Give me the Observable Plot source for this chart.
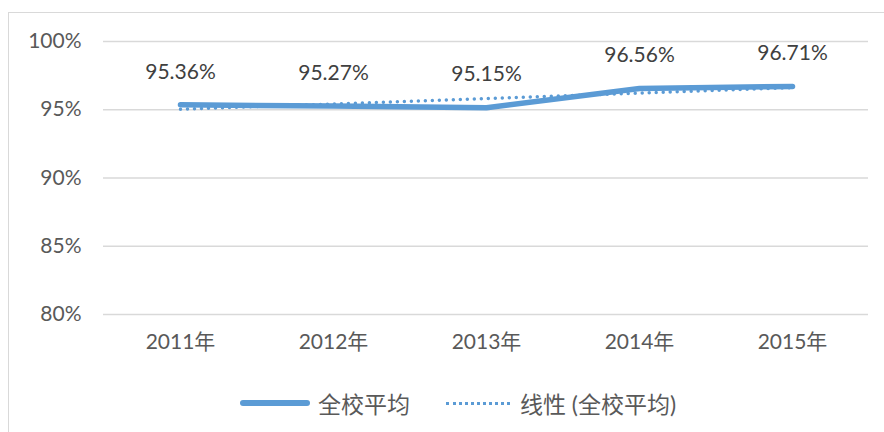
<!DOCTYPE html>
<html>
<head>
<meta charset="utf-8">
<script src="https://cdn.jsdelivr.net/npm/d3@7"></script>
<script src="https://cdn.jsdelivr.net/npm/@observablehq/plot@0.6"></script>
<style>
  html, body { margin: 0; padding: 0; background: #fff; }
  #wrap { position: relative; width: 884px; height: 432px; overflow: hidden; font-family: Lato, "Noto Sans CJK SC", sans-serif; }
  #frame { position: absolute; left: 8px; top: 12px; width: 900px; height: 440px; border: 1px solid #d9d9d9; box-sizing: border-box; }
  #chart { position: absolute; left: 0; top: 0; }
  #legend { position: absolute; top: 386px; left: 16px; width: 884px; display: flex; justify-content: center; align-items: center; color: #595959; font-size: 23px; }
  .item { display: flex; align-items: center; }
  .swatch { display: inline-block; width: 70px; height: 0; margin-right: 8px; }
</style>
</head>
<body>
<div id="wrap">
  <div id="frame"></div>
  <div id="chart"></div>
  <div id="legend">
    <span class="item"><span class="swatch" style="border-top: 6px solid #5B9BD5; border-radius: 3px;"></span>全校平均</span>
    <span class="item" style="margin-left: 36px;"><span class="swatch" style="width: 64px; margin-right: 10px; border-top: 3px dotted #5B9BD5;"></span>线性 (全校平均)</span>
  </div>
</div>
<script>
const years = ["2011年", "2012年", "2013年", "2014年", "2015年"];
const values = [95.36, 95.27, 95.15, 96.56, 96.71];
const trendYears = ["2011年", "2015年"];
const trendValues = [95.03, 96.62];
const yTicks = [80, 85, 90, 95, 100];

const data = years.map((y, i) => ({year: y, value: values[i]}));
const trend = trendYears.map((y, i) => ({year: y, value: trendValues[i]}));

const font = 'Lato, "Noto Sans CJK SC", sans-serif';
const blue = "#5B9BD5";

const chart = Plot.plot({
  width: 884,
  height: 380,
  marginLeft: 103,
  marginRight: 16,
  marginTop: 41,
  marginBottom: 66,
  style: { fontFamily: font, fontSize: "21px", color: "#595959", background: "transparent" },
  x: { type: "point", domain: years, padding: 0.5, label: null },
  y: { domain: [80, 100], label: null },
  marks: [
    Plot.ruleY(yTicks, { stroke: "#d9d9d9", strokeWidth: 1.5 }),
    Plot.axisY({ ticks: yTicks, tickSize: 0, tickPadding: 22, tickFormat: d => d + "%", fill: "#595959", fontSize: 21 }),
    Plot.axisX({ tickSize: 0, tickPadding: 20, fill: "#595959", fontSize: 21 }),
    Plot.line(trend, { x: "year", y: "value", stroke: blue, strokeWidth: 3.5, strokeDasharray: "0 7", strokeLinecap: "round" }),
    Plot.line(data, { x: "year", y: "value", stroke: blue, strokeWidth: 5.5, strokeLinecap: "round", strokeLinejoin: "round" }),
    Plot.text(data, { x: "year", y: "value", text: d => d.value.toFixed(2) + "%", dy: -33, fill: "#404040", fontSize: 21 })
  ]
});
document.getElementById("chart").appendChild(chart);
</script>
</body>
</html>
